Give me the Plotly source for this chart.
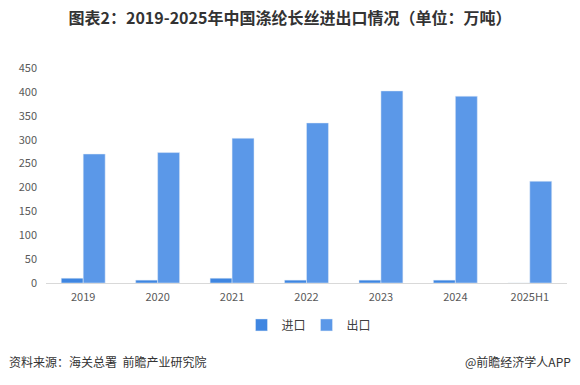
import plotly.graph_objects as go

categories = ["2019", "2020", "2021", "2022", "2023", "2024", "2025H1"]
imports = [10, 6, 10, 6, 6, 6, 0]
exports = [270, 273, 303, 335, 402, 391, 213]
y_ticks = [0, 50, 100, 150, 200, 250, 300, 350, 400, 450]

fig = go.Figure()
fig.add_trace(go.Bar(name="进口", x=categories, y=imports, marker_color="#3F86E1"))
fig.add_trace(go.Bar(name="出口", x=categories, y=exports, marker_color="#5B98E8"))

font_family = "Microsoft YaHei, Noto Sans CJK SC, sans-serif"
fig.update_layout(
    width=580, height=385,
    paper_bgcolor="white", plot_bgcolor="white",
    margin=dict(l=46, r=13, t=68, b=102, autoexpand=False),
    barmode="group", bargap=0.41, bargroupgap=0,
    font=dict(family=font_family, color="#595959", size=11),
    title=dict(text="<b>图表2：2019-2025年中国涤纶长丝进出口情况（单位：万吨）</b>",
               x=0.5, xanchor="center", y=0.953, yanchor="middle",
               font=dict(size=16, color="#333333", family=font_family)),
    legend=dict(orientation="h", x=0.5, xanchor="center", y=-0.195, yanchor="middle",
                font=dict(size=12, color="#404040"), itemwidth=30, traceorder="normal",
                entrywidth=20, entrywidthmode="pixels"),
    showlegend=True,
)
fig.update_xaxes(showline=True, linecolor="#D9D9D9", linewidth=1, ticks="",
                 showgrid=False, tickfont=dict(size=11, color="#595959"), ticklabelstandoff=4)
fig.update_yaxes(range=[0, 450], tickvals=y_ticks, showgrid=False, zeroline=False,
                 showline=False, tickfont=dict(size=11, color="#595959"), ticklabelstandoff=8)
fig.add_annotation(text="资料来源：海关总署  前瞻产业研究院", xref="paper", yref="paper",
                   x=-0.075, xanchor="left", y=-0.367, yanchor="middle", showarrow=False,
                   font=dict(size=12, color="#333333"))
fig.add_annotation(text="@前瞻经济学人APP", xref="paper", yref="paper",
                   x=1.012, xanchor="right", y=-0.367, yanchor="middle", showarrow=False,
                   font=dict(size=12, color="#333333"))
fig.write_html("out.html", config={"displayModeBar": False},
               post_script="document.body.style.margin='0';")
